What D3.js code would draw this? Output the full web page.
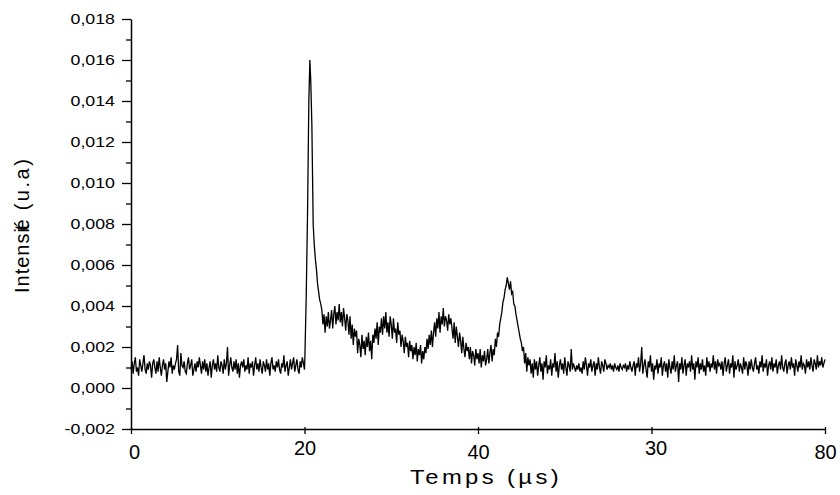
<!DOCTYPE html>
<html>
<head>
<meta charset="utf-8">
<script src="https://cdn.jsdelivr.net/npm/d3@7"></script>
<style>
  html, body { margin: 0; padding: 0; background: #fff; }
  svg { display: block; font-family: "Liberation Sans", Arial, sans-serif; }
</style>
</head>
<body>
<script>
// ---- data ----
// time in µs
const time = [
0,0.125,0.25,0.375,0.5,0.625,0.75,0.875,
1,1.125,1.25,1.375,1.5,1.625,1.75,1.875,
2,2.125,2.25,2.375,2.5,2.625,2.75,2.875,
3,3.125,3.25,3.375,3.5,3.625,3.75,3.875,
4,4.125,4.25,4.375,4.5,4.625,4.75,4.875,
5,5.125,5.25,5.375,5.5,5.625,5.75,5.875,
6,6.125,6.25,6.375,6.5,6.625,6.75,6.875,
7,7.125,7.25,7.375,7.5,7.625,7.75,7.875,
8,8.125,8.25,8.375,8.5,8.625,8.75,8.875,
9,9.125,9.25,9.375,9.5,9.625,9.75,9.875,
10,10.125,10.25,10.375,10.5,10.625,10.75,10.875,
11,11.125,11.25,11.375,11.5,11.625,11.75,11.875,
12,12.125,12.25,12.375,12.5,12.625,12.75,12.875,
13,13.125,13.25,13.375,13.5,13.625,13.75,13.875,
14,14.125,14.25,14.375,14.5,14.625,14.75,14.875,
15,15.125,15.25,15.375,15.5,15.625,15.75,15.875,
16,16.125,16.25,16.375,16.5,16.625,16.75,16.875,
17,17.125,17.25,17.375,17.5,17.625,17.75,17.875,
18,18.125,18.25,18.375,18.5,18.625,18.75,18.875,
19,19.125,19.25,19.375,19.5,19.625,19.75,19.875,
20,20.05,20.2,20.35,20.5,20.62,20.72,20.85,21,
21.125,21.25,21.375,21.5,21.625,21.75,21.875,
22,22.125,22.25,22.375,22.5,22.625,22.75,22.875,
23,23.125,23.25,23.375,23.5,23.625,23.75,23.875,
24,24.125,24.25,24.375,24.5,24.625,24.75,24.875,
25,25.125,25.25,25.375,25.5,25.625,25.75,25.875,
26,26.125,26.25,26.375,26.5,26.625,26.75,26.875,
27,27.125,27.25,27.375,27.5,27.625,27.75,27.875,
28,28.125,28.25,28.375,28.5,28.625,28.75,28.875,
29,29.125,29.25,29.375,29.5,29.625,29.75,29.875,
30,30.125,30.25,30.375,30.5,30.625,30.75,30.875,
31,31.125,31.25,31.375,31.5,31.625,31.75,31.875,
32,32.125,32.25,32.375,32.5,32.625,32.75,32.875,
33,33.125,33.25,33.375,33.5,33.625,33.75,33.875,
34,34.125,34.25,34.375,34.5,34.625,34.75,34.875,
35,35.125,35.25,35.375,35.5,35.625,35.75,35.875,
36,36.125,36.25,36.375,36.5,36.625,36.75,36.875,
37,37.125,37.25,37.375,37.5,37.625,37.75,37.875,
38,38.125,38.25,38.375,38.5,38.625,38.75,38.875,
39,39.125,39.25,39.375,39.5,39.625,39.75,39.875,
40,40.125,40.25,40.375,40.5,40.625,40.75,40.875,
41,41.125,41.25,41.375,41.5,41.625,41.75,41.875,
42,42.125,42.25,42.375,42.5,42.625,42.75,42.875,
43,43.125,43.25,43.375,43.5,43.625,43.75,43.875,
44,44.125,44.25,44.375,44.5,44.625,44.75,44.875,
45,45.125,45.25,45.375,45.5,45.625,45.75,45.875,
46,46.125,46.25,46.375,46.5,46.625,46.75,46.875,
47,47.125,47.25,47.375,47.5,47.625,47.75,47.875,
48,48.125,48.25,48.375,48.5,48.625,48.75,48.875,
49,49.125,49.25,49.375,49.5,49.625,49.75,49.875,
50,50.125,50.25,50.375,50.5,50.625,50.75,50.875,
51,51.125,51.25,51.375,51.5,51.625,51.75,51.875,
52,52.125,52.25,52.375,52.5,52.625,52.75,52.875,
53,53.125,53.25,53.375,53.5,53.625,53.75,53.875,
54,54.125,54.25,54.375,54.5,54.625,54.75,54.875,
55,55.125,55.25,55.375,55.5,55.625,55.75,55.875,
56,56.125,56.25,56.375,56.5,56.625,56.75,56.875,
57,57.125,57.25,57.375,57.5,57.625,57.75,57.875,
58,58.125,58.25,58.375,58.5,58.625,58.75,58.875,
59,59.125,59.25,59.375,59.5,59.625,59.75,59.875,
60,60.125,60.25,60.375,60.5,60.625,60.75,60.875,
61,61.125,61.25,61.375,61.5,61.625,61.75,61.875,
62,62.125,62.25,62.375,62.5,62.625,62.75,62.875,
63,63.125,63.25,63.375,63.5,63.625,63.75,63.875,
64,64.125,64.25,64.375,64.5,64.625,64.75,64.875,
65,65.125,65.25,65.375,65.5,65.625,65.75,65.875,
66,66.125,66.25,66.375,66.5,66.625,66.75,66.875,
67,67.125,67.25,67.375,67.5,67.625,67.75,67.875,
68,68.125,68.25,68.375,68.5,68.625,68.75,68.875,
69,69.125,69.25,69.375,69.5,69.625,69.75,69.875,
70,70.125,70.25,70.375,70.5,70.625,70.75,70.875,
71,71.125,71.25,71.375,71.5,71.625,71.75,71.875,
72,72.125,72.25,72.375,72.5,72.625,72.75,72.875,
73,73.125,73.25,73.375,73.5,73.625,73.75,73.875,
74,74.125,74.25,74.375,74.5,74.625,74.75,74.875,
75,75.125,75.25,75.375,75.5,75.625,75.75,75.875,
76,76.125,76.25,76.375,76.5,76.625,76.75,76.875,
77,77.125,77.25,77.375,77.5,77.625,77.75,77.875,
78,78.125,78.25,78.375,78.5,78.625,78.75,78.875,
79,79.125,79.25,79.375,79.5,79.625,79.75,79.875,
80
];

// intensity (u.a), one row per µs
const intensity = [
0.0009,0.0013,0.0007,0.0012,0.0015,0.0008,0.0010,0.0006,
0.0014,0.0011,0.0008,0.0012,0.0016,0.0009,0.0007,0.0012,
0.0009,0.0013,0.0011,0.0005,0.0012,0.0014,0.0010,0.0007,
0.0013,0.0008,0.0015,0.0010,0.0006,0.0011,0.0014,0.0009,
0.0012,0.0003,0.0008,0.0013,0.0010,0.0015,0.0007,0.0011,
0.0009,0.0012,0.0014,0.0021,0.0008,0.0006,0.0017,0.0011,
0.0010,0.0013,0.0008,0.0007,0.0012,0.0015,0.0009,0.0011,
0.0014,0.0006,0.0009,0.0012,0.0008,0.0013,0.0010,0.0015,
0.0011,0.0007,0.0013,0.0009,0.0014,0.0008,0.0012,0.0006,
0.0010,0.0013,0.0005,0.0011,0.0014,0.0009,0.0012,0.0008,
0.0016,0.0010,0.0008,0.0013,0.0011,0.0007,0.0014,0.0009,
0.0012,0.0020,0.0006,0.0011,0.0015,0.0010,0.0008,0.0013,
0.0009,0.0014,0.0007,0.0012,0.0005,0.0011,0.0013,0.0010,
0.0014,0.0008,0.0011,0.0009,0.0015,0.0007,0.0012,0.0010,
0.0013,0.0006,0.0011,0.0015,0.0009,0.0012,0.0008,0.0014,
0.0010,0.0007,0.0013,0.0011,0.0008,0.0014,0.0009,0.0012,
0.0006,0.0012,0.0015,0.0009,0.0011,0.0008,0.0013,0.0010,
0.0014,0.0009,0.0007,0.0012,0.0010,0.0016,0.0008,0.0011,
0.0013,0.0006,0.0010,0.0014,0.0009,0.0012,0.0015,0.0008,
0.0011,0.0014,0.0009,0.0007,0.0013,0.0010,0.0015,0.0012,
0.0009,0.0016,0.0045,0.0085,0.0140,0.0160,0.0150,0.0128,0.0080,
0.0070,0.0063,0.0058,0.0051,0.0047,0.0043,0.0041,
0.0038,0.0031,0.0036,0.0027,0.0035,0.0030,0.0037,0.0029,
0.0033,0.0038,0.0029,0.0036,0.0040,0.0031,0.0037,0.0033,
0.0041,0.0032,0.0037,0.0030,0.0039,0.0034,0.0028,0.0036,
0.0033,0.0026,0.0035,0.0024,0.0031,0.0021,0.0029,0.0025,
0.0028,0.0017,0.0024,0.0021,0.0015,0.0026,0.0019,0.0023,
0.0016,0.0025,0.0020,0.0027,0.0018,0.0023,0.0014,0.0026,
0.0022,0.0029,0.0024,0.0032,0.0021,0.0030,0.0027,0.0034,
0.0026,0.0035,0.0029,0.0037,0.0027,0.0032,0.0025,0.0035,
0.0031,0.0024,0.0034,0.0027,0.0029,0.0022,0.0032,0.0026,
0.0028,0.0020,0.0026,0.0023,0.0017,0.0025,0.0020,0.0022,
0.0015,0.0023,0.0018,0.0021,0.0014,0.0020,0.0016,0.0022,
0.0013,0.0019,0.0016,0.0021,0.0012,0.0018,0.0014,0.0020,
0.0017,0.0024,0.0019,0.0026,0.0021,0.0028,0.0020,0.0027,
0.0032,0.0025,0.0034,0.0029,0.0037,0.0027,0.0035,0.0031,
0.0039,0.0030,0.0035,0.0033,0.0028,0.0036,0.0031,0.0034,
0.0029,0.0024,0.0032,0.0022,0.0030,0.0025,0.0020,0.0027,
0.0023,0.0017,0.0025,0.0019,0.0015,0.0022,0.0018,0.0020,
0.0014,0.0020,0.0012,0.0018,0.0016,0.0011,0.0019,0.0014,
0.0017,0.0012,0.0019,0.0010,0.0016,0.0013,0.0018,0.0011,
0.0014,0.0019,0.0012,0.0017,0.0021,0.0013,0.0019,0.0016,
0.0024,0.0020,0.0027,0.0025,0.0031,0.0034,0.0037,0.0042,
0.0044,0.0048,0.0050,0.0054,0.0051,0.0048,0.0052,0.0046,
0.0047,0.0041,0.0040,0.0036,0.0033,0.0030,0.0027,0.0024,
0.0022,0.0018,0.0020,0.0012,0.0017,0.0008,0.0015,0.0011,
0.0014,0.0007,0.0012,0.0005,0.0014,0.0009,0.0013,0.0006,
0.0011,0.0015,0.0008,0.0012,0.0004,0.0013,0.0010,0.0016,
0.0007,0.0011,0.0009,0.0014,0.0006,0.0012,0.0010,0.0017,
0.0008,0.0013,0.0005,0.0011,0.0014,0.0009,0.0012,0.0007,
0.0015,0.0010,0.0006,0.0013,0.0011,0.0008,0.0019,0.0009,
0.0012,0.0010,0.0008,0.0011,0.0009,0.0012,0.0008,0.0010,
0.0007,0.0013,0.0009,0.0015,0.0011,0.0006,0.0012,0.0010,
0.0014,0.0008,0.0011,0.0013,0.0006,0.0012,0.0009,0.0015,
0.0010,0.0007,0.0013,0.0011,0.0008,0.0014,0.0012,0.0009,
0.0011,0.0010,0.0012,0.0009,0.0011,0.0008,0.0012,0.0010,
0.0009,0.0011,0.0008,0.0012,0.0010,0.0009,0.0011,0.0010,
0.0012,0.0008,0.0011,0.0009,0.0013,0.0010,0.0008,0.0011,
0.0013,0.0006,0.0012,0.0010,0.0015,0.0008,0.0012,0.0020,
0.0007,0.0011,0.0014,0.0009,0.0005,0.0013,0.0010,0.0016,
0.0008,0.0012,0.0004,0.0011,0.0009,0.0014,0.0007,0.0012,
0.0010,0.0015,0.0006,0.0011,0.0013,0.0008,0.0012,0.0005,
0.0014,0.0010,0.0007,0.0013,0.0009,0.0016,0.0008,0.0011,
0.0013,0.0003,0.0012,0.0009,0.0015,0.0007,0.0011,0.0014,
0.0006,0.0012,0.0010,0.0013,0.0008,0.0016,0.0009,0.0012,
0.0004,0.0013,0.0010,0.0015,0.0007,0.0012,0.0009,0.0014,
0.0008,0.0011,0.0006,0.0015,0.0010,0.0013,0.0008,0.0012,
0.0010,0.0016,0.0009,0.0013,0.0007,0.0014,0.0011,0.0012,
0.0009,0.0013,0.0006,0.0012,0.0015,0.0008,0.0011,0.0014,
0.0007,0.0012,0.0010,0.0016,0.0005,0.0013,0.0009,0.0011,
0.0014,0.0008,0.0012,0.0010,0.0007,0.0015,0.0009,0.0013,
0.0011,0.0006,0.0013,0.0009,0.0014,0.0010,0.0008,0.0012,
0.0015,0.0009,0.0011,0.0007,0.0013,0.0010,0.0016,0.0008,
0.0012,0.0010,0.0014,0.0006,0.0011,0.0013,0.0009,0.0015,
0.0008,0.0012,0.0010,0.0014,0.0007,0.0011,0.0013,0.0009,
0.0016,0.0010,0.0008,0.0012,0.0014,0.0007,0.0011,0.0013,
0.0009,0.0015,0.0010,0.0012,0.0006,0.0014,0.0011,0.0008,
0.0013,0.0010,0.0016,0.0009,0.0012,0.0011,0.0007,0.0014,
0.0010,0.0013,0.0009,0.0015,0.0011,0.0008,0.0014,0.0012,
0.0009,0.0016,0.0010,0.0013,0.0011,0.0015,0.0010,0.0012,
0.0014
];

const xTickValues = [0, 20, 40, 60, 80];
const xTickLabels = ["0", "20", "40", "30", "80"];
const yTickValues = [-0.002, 0, 0.002, 0.004, 0.006, 0.008, 0.010, 0.012, 0.014, 0.016, 0.018];
const yMinorValues = [-0.001, 0.001, 0.003, 0.005, 0.007, 0.009, 0.011, 0.013, 0.015, 0.017];
const xTitle = "Temps (µs)";
const yTitleParts = ["Intens", "i", "t", "é", " (u.a)"];

// ---- drawing ----
const W = 840, H = 495;
const svg = d3.select("body").append("svg").attr("width", W).attr("height", H);

const x = d3.scaleLinear().domain([0, 80]).range([131, 825]);
const y = d3.scaleLinear().domain([-0.002, 0.018]).range([429, 19]);

const n = Math.min(time.length, intensity.length);
if (time.length !== intensity.length) console.error("length mismatch", time.length, intensity.length);
const pts = d3.range(n).map(i => [time[i], intensity[i]]);

svg.append("path")
  .datum(pts)
  .attr("fill", "none")
  .attr("stroke", "#000")
  .attr("stroke-width", 1.3)
  .attr("stroke-linejoin", "miter")
  .attr("d", d3.line().x(d => x(d[0])).y(d => y(d[1])));

const loc = d3.formatLocale({decimal: ",", thousands: ".", grouping: [3], currency: ["", ""], minus: "-"});
const fmt = loc.format(".3f");

// Y axis
const gy = svg.append("g").attr("transform", "translate(131,0)")
  .call(d3.axisLeft(y).tickValues(yTickValues).tickFormat(fmt).tickSize(9).tickPadding(7).tickSizeOuter(0));
gy.select(".domain").attr("stroke", "#000").attr("stroke-width", 1.5);
gy.selectAll(".tick line").attr("stroke", "#000").attr("stroke-width", 1.3);
gy.selectAll(".tick text")
  .attr("fill", "#000")
  .style("font-size", "14px")
  .style("font-family", '"Liberation Sans", Arial, sans-serif')
  .each(function () {
    const w = this.getComputedTextLength();
    d3.select(this).attr("textLength", w * 1.27).attr("lengthAdjust", "spacingAndGlyphs");
  });

const gyMinor = svg.append("g").attr("transform", "translate(131,0)")
  .call(d3.axisLeft(y).tickValues(yMinorValues).tickFormat("").tickSize(5).tickSizeOuter(0));
gyMinor.select(".domain").remove();
gyMinor.selectAll(".tick line").attr("stroke", "#000").attr("stroke-width", 1.3);

// X axis
const gx = svg.append("g").attr("transform", "translate(0,429)")
  .call(d3.axisBottom(x).tickValues(xTickValues).tickFormat((d, i) => xTickLabels[i]).tickSize(5).tickPadding(11).tickSizeOuter(0));
gx.select(".domain").attr("stroke", "#000").attr("stroke-width", 1.5);
gx.selectAll(".tick line").attr("stroke", "#000").attr("stroke-width", 1.3).attr("y1", -2);
const nudge = [[3, 0], [0, -4], [0, 0], [4, -4], [0, 0]];
gx.selectAll(".tick text")
  .attr("fill", "#000")
  .style("font-size", "20px")
  .style("font-family", '"Liberation Sans", Arial, sans-serif')
  .attr("dx", (d, i) => nudge[i][0])
  .attr("transform", (d, i) => `translate(0,${nudge[i][1]})`);

// Axis titles
svg.append("text")
  .attr("x", 486).attr("y", 484)
  .attr("text-anchor", "middle")
  .style("font-size", "21px")
  .style("letter-spacing", "3px")
  .attr("textLength", 152).attr("lengthAdjust", "spacingAndGlyphs")
  .attr("fill", "#000")
  .text(xTitle);

const yt = svg.append("text")
  .attr("transform", "translate(29,293) rotate(-90)")
  .attr("text-anchor", "start")
  .style("font-size", "20px")
  .style("letter-spacing", "1px")
  .attr("fill", "#000");
yt.append("tspan").text(yTitleParts[0]);
yt.append("tspan").text(yTitleParts[1]);
yt.append("tspan").attr("dx", -3).text(yTitleParts[2]);
yt.append("tspan").attr("dx", -7).text(yTitleParts[3]);
yt.append("tspan").style("letter-spacing", "2.5px").text(yTitleParts[4]);
</script>
</body>
</html>
